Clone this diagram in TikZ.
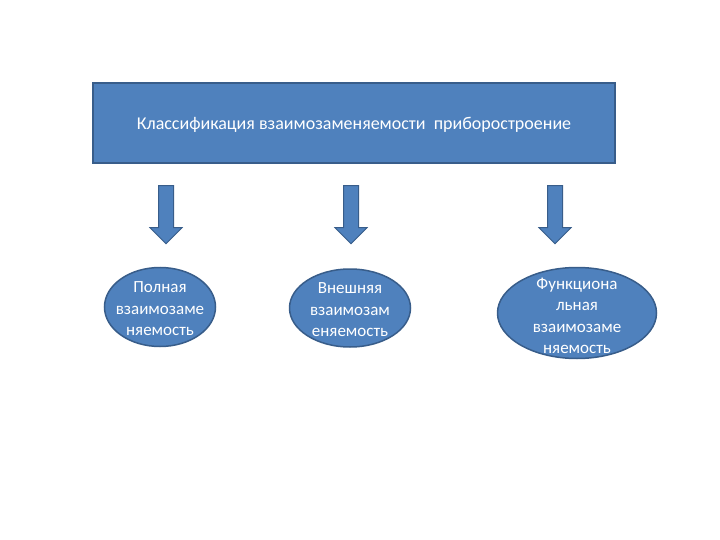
\documentclass[tikz,border=0pt]{standalone}
\usepackage{fontspec}
\setmainfont{Carlito}
\definecolor{mBlueFill}{HTML}{4F81BD}
\definecolor{mBlueLine}{HTML}{385D8A}
\usetikzlibrary{shapes.geometric,shapes.arrows}

\begin{document}
\begin{tikzpicture}[x=1pt, y=-1pt, font=\fontsize{17}{21.5}\selectfont, every node/.style={draw=mBlueLine, line width=1.5pt, fill=mBlueFill, text=white, inner sep=0pt},
 oval/.style={ellipse}, txt/.style={draw=none, fill=none, align=center},
 downarrow/.style={single arrow, rotate=-90, minimum height=58pt, inner xsep=0pt, inner ysep=7pt, single arrow head extend=8.5pt, line width=1pt}]
\useasboundingbox[fill=white] (0,0) rectangle (720,540);
\node[minimum width=522pt, minimum height=80pt, text depth=0pt, font=\fontsize{18}{21.5}\selectfont] (T) at (354,123) {Классификация взаимозаменяемости\ \ приборостроение};
\node[downarrow] (A1) at (166,211) {};
\node[downarrow] (A2) at (351,211) {};
\node[downarrow] (A3) at (555,211) {};
\node[oval, minimum width=111pt, minimum height=79pt] (P) at (160,307) {};
\node[oval, minimum width=121pt, minimum height=78pt] (V) at (350,308) {};
\node[oval, minimum width=159pt, minimum height=91pt] (F) at (577,313) {};
\node[txt] (Pt) at (160,309) {Полная\\взаимозаме\\няемость};
\node[txt] (Vt) at (350,310) {Внешняя\\взаимозам\\еняемость};
\node[txt] (Ft) at (577,316) {Функциона\\льная\\взаимозаме\\няемость};
\end{tikzpicture}
\end{document}
